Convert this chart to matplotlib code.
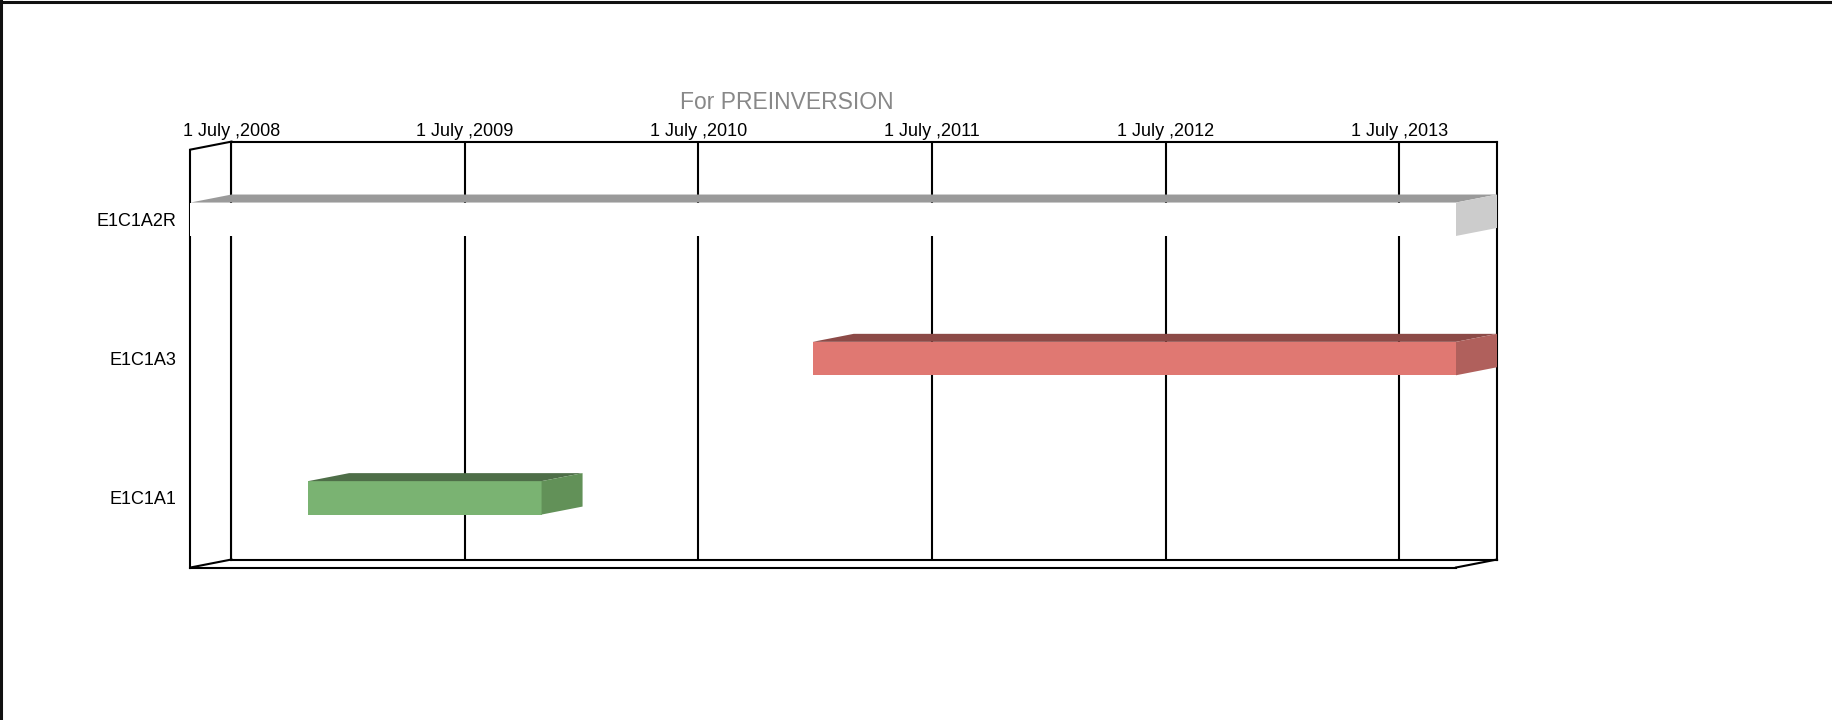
import matplotlib
matplotlib.use("Agg")
import matplotlib.pyplot as plt
import matplotlib.dates as mdates
from matplotlib.patches import Rectangle, Polygon
from matplotlib.lines import Line2D
import pandas as pd

plt.rcParams['font.family'] = ['Liberation Sans', 'DejaVu Sans']

# data
tasks = ["E1C1A1", "E1C1A3", "E1C1A2R"]
starts = ["2009-01-01", "2011-03-01", "2008-07-01"]
ends = ["2010-01-01", "2013-12-01", "2013-12-01"]
front_colors = ["#7ab372", "#e07872", "#ffffff"]
top_colors = ["#4e6e48", "#8c4a47", "#9a9a9a"]
side_colors = ["#629158", "#b0605c", "#cccccc"]
tick_dates = ["2008-07-01", "2009-07-01", "2010-07-01", "2011-07-01", "2012-07-01", "2013-07-01"]
tick_labels = ["1 July ,2008", "1 July ,2009", "1 July ,2010", "1 July ,2011", "1 July ,2012", "1 July ,2013"]
x_range = ["2008-07-01", "2013-12-01"]
title = "For PREINVERSION"

W, H = 1833, 720
# front plane in pixels (left, top, right, bottom) and 3d depth offset
fl, ft, fr, fb = 190.5, 149.6, 1456.0, 567.5
dpx, dpy = 41.0, 8.0

fig = plt.figure(figsize=(W / 100, H / 100), dpi=100)

xmin, xmax = mdates.date2num(pd.to_datetime(x_range))
ymin, ymax = -0.5, len(tasks) - 0.5

# back plane with grid and date labels
axb = fig.add_axes([(fl + dpx) / W, 1 - (fb - dpy) / H, (fr - fl) / W, (fb - ft) / H])
axb.set_zorder(1)
axb.set_xlim(xmin, xmax)
axb.set_ylim(ymin, ymax)
axb.set_xticks(mdates.date2num(pd.to_datetime(tick_dates)))
axb.set_xticklabels(tick_labels, fontsize=13)
axb.xaxis.tick_top()
axb.tick_params(axis='x', length=0, pad=1.5)
axb.set_yticks([])
axb.grid(axis='x', color='black', linewidth=1.5)
for s in axb.spines.values():
    s.set_linewidth(1.5)

# front plane with bars
ax = fig.add_axes([fl / W, 1 - fb / H, (fr - fl) / W, (fb - ft) / H])
ax.set_zorder(2)
ax.patch.set_facecolor('none')
ax.set_xlim(xmin, xmax)
ax.set_ylim(ymin, ymax)
ax.set_xticks([])
ax.set_yticks(range(len(tasks)))
ax.set_yticklabels(tasks, fontsize=13)
ax.tick_params(axis='y', length=0, pad=10.5)
ax.spines['top'].set_visible(False)
ax.spines['right'].set_visible(False)
ax.spines['left'].set_linewidth(1.5)
ax.spines['bottom'].set_linewidth(1.5)

# depth in data units
ddx = dpx / (fr - fl) * (xmax - xmin)
ddy = dpy / (fb - ft) * (ymax - ymin)

for (x0, y0, x1, y1) in [(xmin, ymax, xmin + ddx, ymax + ddy),
                         (xmin, ymin, xmin + ddx, ymin + ddy),
                         (xmax, ymin, xmax + ddx, ymin + ddy)]:
    ax.plot([x0, x1], [y0, y1], color='black', linewidth=1.5, clip_on=False, zorder=2)

bh = 0.24
for i, task in enumerate(tasks):
    s = mdates.date2num(pd.to_datetime(starts[i]))
    e = mdates.date2num(pd.to_datetime(ends[i]))
    lo, hi = i - bh / 2, i + bh / 2
    ax.add_patch(Rectangle((s, lo), e - s, bh, facecolor=front_colors[i],
                           edgecolor='none', clip_on=False, zorder=3))
    ax.add_patch(Polygon([(s, hi), (e, hi), (e + ddx, hi + ddy), (s + ddx, hi + ddy)],
                         closed=True, facecolor=top_colors[i], edgecolor='none',
                         clip_on=False, zorder=3))
    ax.add_patch(Polygon([(e, lo), (e + ddx, lo + ddy), (e + ddx, hi + ddy), (e, hi)],
                         closed=True, facecolor=side_colors[i], edgecolor='none',
                         clip_on=False, zorder=3))

fig.text(786.7 / W, 1 - 102.3 / H, title, fontsize=16.5, color='#888888',
         ha='center', va='center')

# outer border (top and left only visible)
fig.add_artist(Line2D([0, 1], [1 - 1.5 / H, 1 - 1.5 / H], transform=fig.transFigure,
                      color='#111111', linewidth=2.2))
fig.add_artist(Line2D([1.5 / W, 1.5 / W], [0, 1], transform=fig.transFigure,
                      color='#111111', linewidth=2.2))

fig.savefig("out.png", dpi=100, facecolor='white')
